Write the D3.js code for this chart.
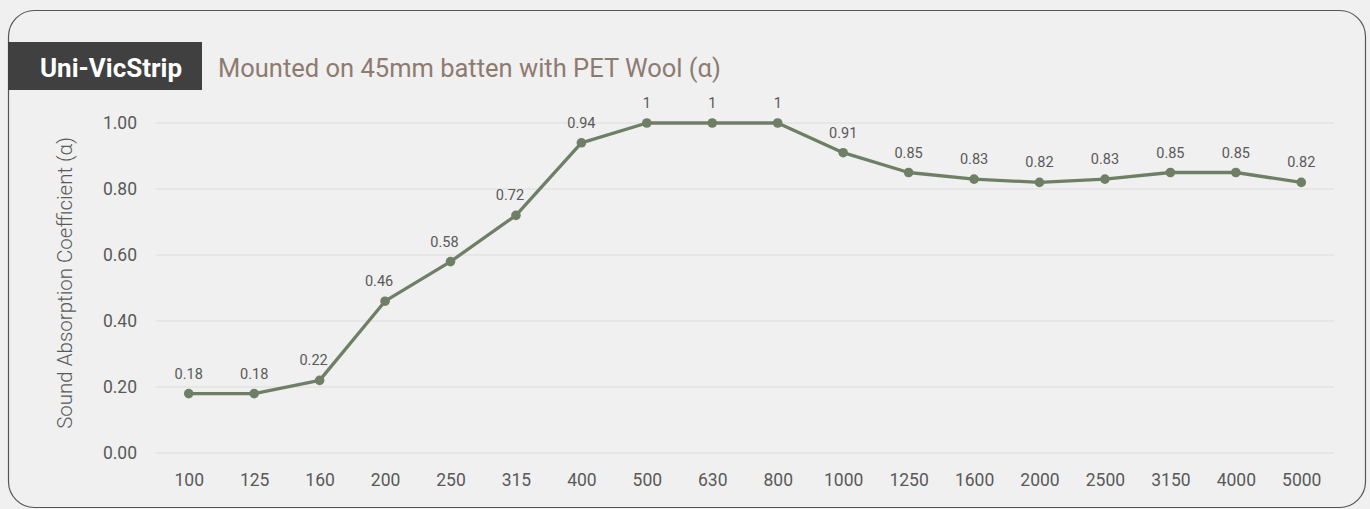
<!DOCTYPE html>
<html>
<head>
<meta charset="UTF-8">
<title>Uni-VicStrip</title>
<script src="https://cdn.jsdelivr.net/npm/d3@7/dist/d3.min.js"></script>
<style>
  body { margin: 0; background: #f0f0f0; }
  svg { display: block; font-family: Roboto, "Noto Sans", sans-serif; }
</style>
</head>
<body>
<svg id="chart" width="1370" height="509"></svg>
<script>
// frequencies (Hz) and absorption coefficients
var categories = ["100", "125", "160", "200", "250", "315", "400", "500", "630", "800",
                  "1000", "1250", "1600", "2000", "2500", "3150", "4000", "5000"];
var values = [0.18, 0.18, 0.22, 0.46, 0.58, 0.72, 0.94, 1, 1, 1,
              0.91, 0.85, 0.83, 0.82, 0.83, 0.85, 0.85, 0.82];
var yTicks = [0, 0.2, 0.4, 0.6, 0.8, 1.0];

var svg = d3.select("#chart");
var lineColor = "#6f7f66";

// outer rounded frame
svg.append("rect")
    .attr("x", 8.5).attr("y", 10.5)
    .attr("width", 1357).attr("height", 497)
    .attr("rx", 26).attr("ry", 26)
    .attr("fill", "#f0f0f0")
    .attr("stroke", "#555").attr("stroke-width", 1.2);

// title block
svg.append("rect")
    .attr("x", 8).attr("y", 42)
    .attr("width", 194).attr("height", 48)
    .attr("fill", "#404040");
svg.append("text")
    .attr("x", 111).attr("y", 77)
    .attr("text-anchor", "middle")
    .attr("fill", "#fff")
    .style("font-size", "26px").style("font-weight", "bold")
    .text("Uni-VicStrip");
svg.append("text")
    .attr("x", 218).attr("y", 77)
    .attr("fill", "#8e7b70")
    .style("font-size", "25.5px")
    .text("Mounted on 45mm batten with PET Wool (α)");

var x = d3.scalePoint().domain(categories).range([156, 1334]).padding(0.5);
var y = d3.scaleLinear().domain([0, 1]).range([453, 123]);

// gridlines
svg.append("g")
    .selectAll("line")
    .data(yTicks)
    .enter().append("line")
    .attr("x1", 156).attr("x2", 1334)
    .attr("y1", function (d) { return y(d); })
    .attr("y2", function (d) { return y(d); })
    .attr("stroke", "#dcdcdc").attr("stroke-width", 1);

// y axis
var yAxis = svg.append("g")
    .attr("transform", "translate(140,0)")
    .call(d3.axisLeft(y).tickValues(yTicks).tickFormat(d3.format(".2f")).tickSize(0));
yAxis.select(".domain").remove();
yAxis.selectAll("text")
    .attr("fill", "#595959")
    .style("font-size", "17.5px")
    .style("font-family", "Roboto, sans-serif");

// x axis
var xAxis = svg.append("g")
    .attr("transform", "translate(0,466)")
    .call(d3.axisBottom(x).tickSize(0));
xAxis.select(".domain").remove();
xAxis.selectAll("text")
    .attr("fill", "#595959")
    .attr("dy", "0.95em")
    .style("font-size", "17.5px")
    .style("font-family", "Roboto, sans-serif");

// y title
svg.append("text")
    .attr("transform", "translate(72,283) rotate(-90)")
    .attr("text-anchor", "middle")
    .attr("fill", "#595959")
    .style("font-size", "20.5px")
    .style("font-weight", "300")
    .text("Sound Absorption Coefficient (α)");

// line
var line = d3.line()
    .x(function (d, i) { return x(categories[i]); })
    .y(function (d) { return y(d); });

svg.append("path")
    .datum(values)
    .attr("d", line)
    .attr("fill", "none")
    .attr("stroke", lineColor)
    .attr("stroke-width", 3.3)
    .attr("stroke-linejoin", "round");

svg.append("g")
    .selectAll("circle")
    .data(values)
    .enter().append("circle")
    .attr("cx", function (d, i) { return x(categories[i]); })
    .attr("cy", function (d) { return y(d); })
    .attr("r", 4.8)
    .attr("fill", lineColor);

// data labels, nudged left where the line climbs steeply
svg.append("g")
    .selectAll("text")
    .data(values)
    .enter().append("text")
    .attr("x", function (d, i) {
        var next = values[i + 1];
        var dx = (next !== undefined && next - d > 0.1) ? -6 : 0;
        return x(categories[i]) + dx;
    })
    .attr("y", function (d) { return y(d) - 15; })
    .attr("text-anchor", "middle")
    .attr("fill", "#595959")
    .style("font-size", "14.5px")
    .text(function (d) { return d; });
</script>
</body>
</html>
